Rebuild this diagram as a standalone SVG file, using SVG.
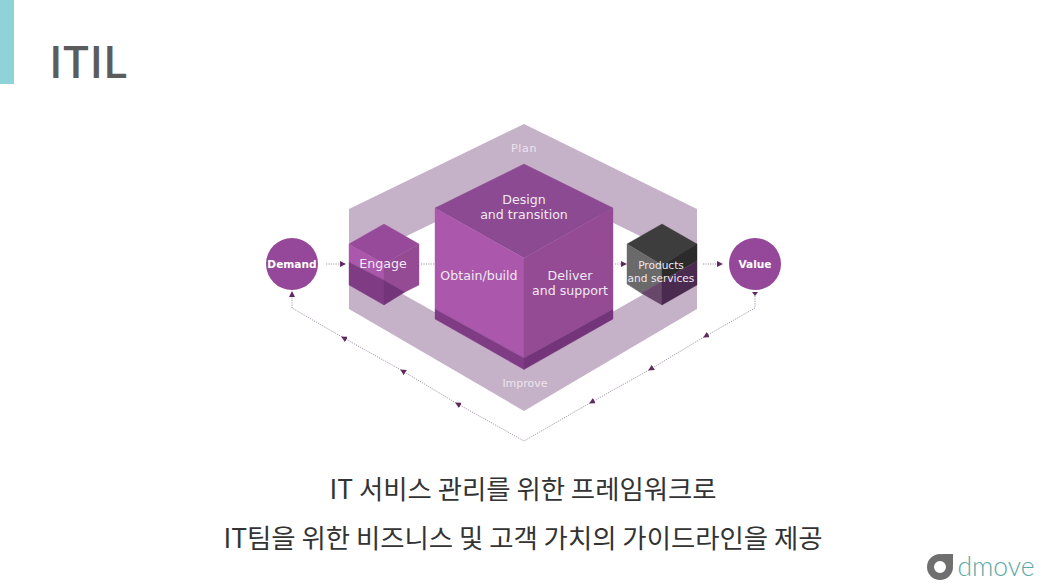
<svg xmlns="http://www.w3.org/2000/svg" width="1046" height="587" viewBox="0 0 1046 587">
<style>
text{font-family:"DejaVu Sans",sans-serif;fill:#f1e9f2;text-anchor:middle}
.l{font-size:12.6px}
.s{font-size:10.6px}
.b{font-size:11px;fill:#ece3ed}
.c{font-weight:bold;font-size:10.6px;fill:#fff}
.k{font-family:"Noto Sans CJK KR","Noto Sans",sans-serif;font-size:26.4px;fill:#333;font-weight:400}
.d{fill:none;stroke:#8d7a90;stroke-width:.8;stroke-dasharray:1.2 1.2}
.m{fill:#5f2a62}
.p1{fill:#ab57ab;stroke:#ab57ab;stroke-width:.4}
.p2{fill:#944b94;stroke:#944b94;stroke-width:.4}
.p3{fill:#7f3c85;stroke:#7f3c85;stroke-width:.4}
.p4{fill:#74347a;stroke:#74347a;stroke-width:.4}
.t1{fill:#8b4a91;stroke:#8b4a91;stroke-width:.4}
.t2{fill:#97499a;stroke:#97499a;stroke-width:.4}
.g1{fill:#3d3d3d;stroke:#3d3d3d;stroke-width:.4}
.g2{fill:#6a6a6a;stroke:#6a6a6a;stroke-width:.4}
.g3{fill:#2b2b2b;stroke:#2b2b2b;stroke-width:.4}
.g4{fill:#67486b;stroke:#67486b;stroke-width:.4}
.g5{fill:#4a2a4f;stroke:#4a2a4f;stroke-width:.4}
</style>
<defs>
<marker id="a" viewBox="0 0 6 6" refX="5" refY="3" markerWidth="6" markerHeight="6" markerUnits="userSpaceOnUse" orient="auto"><path d="M0 0L6 3L0 6z" fill="#5f2a62"/></marker>
</defs>
<rect id="accent" x="0" y="0" width="14" height="84" fill="#8fd2d8"/>
<text id="title" x="49" y="78" style="font-family:'Noto Sans CJK KR','Noto Sans',sans-serif;font-size:44px;fill:#5c5c5c;text-anchor:start;font-weight:500">ITIL</text>

<g id="band">
<path d="M524 124L697 209V309L524 411L349 309V209zM524 179L349 264L524 362L697 264z" fill="#c6b2c8" fill-rule="evenodd"/>
<text class="b" x="524" y="152" letter-spacing=".7">Plan</text>
<text class="b" x="525" y="387">Improve</text>
</g>

<g id="connectors">
<path class="d" d="M326 264H345" marker-end="url(#a)"/>
<path class="d" d="M421 264H435"/>
<path class="d" d="M615 264H626" marker-end="url(#a)"/>
<path class="d" d="M703 264H722" marker-end="url(#a)"/>
<path class="d" d="M755 296V308L704 337" marker-end="url(#a)"/>
<path class="d" d="M704 337L649 370" marker-end="url(#a)"/>
<path class="d" d="M649 370L590 403" marker-end="url(#a)"/>
<path class="d" d="M590 403L524 441L456 403" marker-end="url(#a)"/>
<path class="d" d="M456 403L401 370" marker-end="url(#a)"/>
<path class="d" d="M401 370L342 337" marker-end="url(#a)"/>
<path class="d" d="M342 337L292 308V292" marker-end="url(#a)"/>
<path class="m" d="M752 292H758L755 296z"/>
</g>

<g id="demand">
<circle cx="292" cy="264" r="26" fill="#95489a"/>
<text class="c" x="292" y="268">Demand</text>
</g>

<g id="engage">
<path class="t2" d="M384 224L419 244L384 264L349 244z"/>
<path class="p1" d="M349 244L384 264V280L349 262z"/>
<path class="p2" d="M419 244L384 264V280L405 292L419 285z"/>
<path class="p3" d="M349 262L384 280V305L349 285z"/>
<path class="p4" d="M384 280L405 292L384 305z"/>
<text class="l" x="383" y="268">Engage</text>
</g>

<g id="cube">
<path class="t1" d="M524 164L613 208L524 258L435 208z"/>
<path class="p1" d="M435 208L524 258V358L435 309z"/>
<path class="p2" d="M613 208L524 258V358L613 309z"/>
<path class="p3" d="M435 309L524 358V369.500L435 319z"/>
<path class="p4" d="M613 309L524 358V369.500L613 319z"/>
<text class="l" x="524" y="204">Design</text>
<text class="l" x="524" y="219">and transition</text>
<text class="l" x="479" y="280">Obtain/build</text>
<text class="l" x="570" y="280">Deliver</text>
<text class="l" x="570" y="295">and support</text>
</g>

<g id="products">
<path class="g1" d="M662 224L697 244L662 265L627 244z"/>
<path class="g2" d="M627 244L662 265V281L641 293L627 284z"/>
<path class="g3" d="M697 244L662 265V281L697 261z"/>
<path class="g4" d="M641 293L662 281V305z"/>
<path class="g5" d="M662 281L697 261V285L662 305z"/>
<text class="s" x="661" y="269">Products</text>
<text class="s" x="661" y="282">and services</text>
</g>

<g id="value">
<circle cx="755" cy="264" r="26" fill="#95489a"/>
<text class="c" x="755" y="268">Value</text>
</g>

<text class="k" x="523" y="499">IT 서비스 관리를 위한 프레임워크로</text>
<text class="k" x="523" y="548">IT팀을 위한 비즈니스 및 고객 가치의 가이드라인을 제공</text>

<g id="logo">
<path d="M942 554H953V566z" fill="#6f6f6f"/>
<circle cx="940" cy="567" r="9.500" fill="none" stroke="#6f6f6f" stroke-width="7"/>
<text x="996" y="576" style="font-family:Lato,sans-serif;font-weight:300;font-size:26.500px;fill:#5ba8a8">dmove</text>
</g>
</svg>
